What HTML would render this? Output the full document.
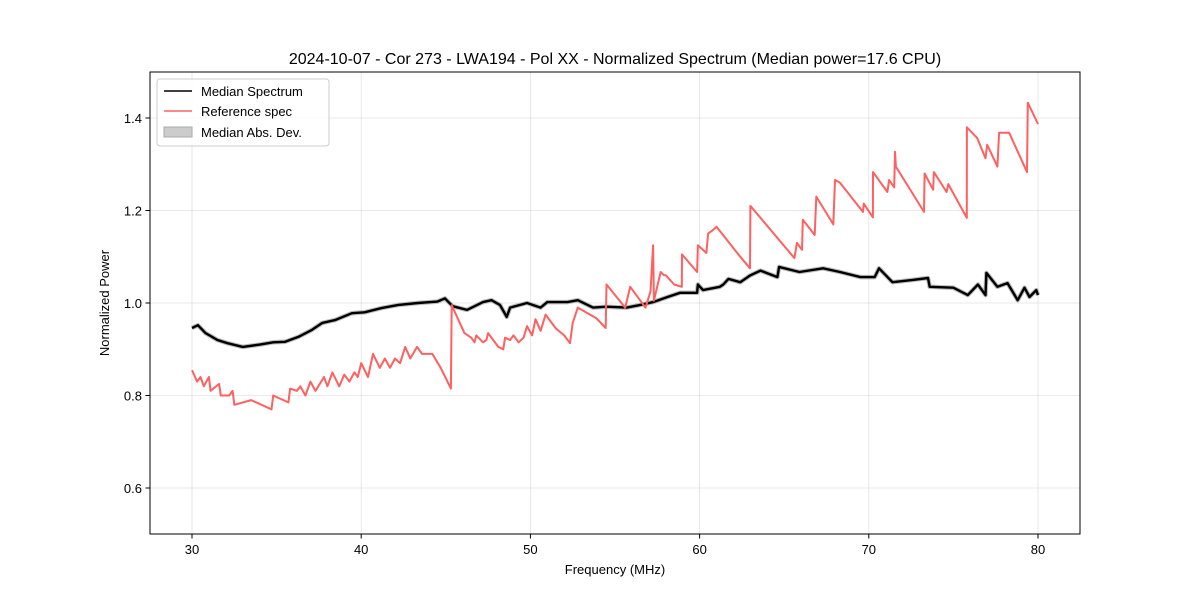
<!DOCTYPE html>
<html><head><meta charset="utf-8"><style>
body{margin:0;background:#fff}
svg{font-family:"Liberation Sans",sans-serif}
</style></head><body>
<svg id="chart" width="1200" height="600" xmlns="http://www.w3.org/2000/svg">
<rect width="1200" height="600" fill="#fff"/>
<text x="615" y="64" font-size="16" text-anchor="middle">2024-10-07 - Cor 273 - LWA194 - Pol XX - Normalized Spectrum (Median power=17.6 CPU)</text>
<g id="grid"></g>
<g id="series"></g>
<rect x="150" y="72" width="930" height="462" fill="none" stroke="#000" stroke-width="1"/>
<g id="ticks"></g>
<text x="615" y="574" font-size="13" text-anchor="middle">Frequency (MHz)</text>
<text x="109" y="303" font-size="13" text-anchor="middle" transform="rotate(-90 109 303)">Normalized Power</text>
<g>
<rect x="157" y="79" width="172" height="67" rx="3" fill="#fff" fill-opacity="0.8" stroke="#ccc"/>
<g><line x1="164" y1="91" x2="192" y2="91" stroke="#000" stroke-width="1.5"/><text x="201" y="96" font-size="13">Median Spectrum</text></g>
<g><line x1="164" y1="111" x2="192" y2="111" stroke="#ff6060" stroke-width="1.5"/><text x="201" y="116" font-size="13">Reference spec</text></g>
<g><rect x="164" y="127" width="28" height="10" fill="#ccc" stroke="#aaa"/><text x="201" y="137" font-size="13">Median Abs. Dev.</text></g>
</g>
</svg>
<script>
const xTicks=[30,40,50,60,70,80];
const yTicks=[0.6,0.8,1.0,1.2,1.4];
const yTickLabels=["0.6","0.8","1.0","1.2","1.4"];
const refFreq=[30,30.3,30.5,30.7,31,31.1,31.6,31.7,32.2,32.4,32.5,33.5,34.7,34.8,35.7,35.8,36.2,36.4,36.7,37,37.3,37.8,38,38.3,38.7,39,39.3,39.6,39.8,40,40.4,40.7,41.1,41.4,41.7,42,42.3,42.6,42.9,43.3,43.6,44.2,44.7,45.3,45.35,45.6,46.1,46.5,46.7,46.8,47.2,47.4,47.5,47.8,48.1,48.4,48.5,48.8,49,49.3,49.6,49.8,50.1,50.3,50.6,50.9,51.5,52,52.34,52.5,52.8,53.9,54.45,54.5,55.6,55.9,56.8,57.1,57.25,57.3,57.7,57.9,58,58.5,58.95,58.96,59.85,59.9,60.4,60.5,60.8,61,62.4,62.98,63,65.6,65.75,66.05,66.1,66.8,66.9,67.9,68,68.3,69.66,69.7,70.24,70.25,71.1,71.2,71.5,71.55,71.6,73.26,73.3,73.8,73.85,74.6,74.7,75.79,75.8,76.4,76.9,77,77.6,77.7,78.3,79.35,79.4,80];
const refVal=[0.855,0.83,0.84,0.82,0.84,0.81,0.825,0.8,0.8,0.81,0.78,0.79,0.77,0.8,0.785,0.815,0.81,0.82,0.8,0.83,0.81,0.84,0.82,0.85,0.82,0.845,0.83,0.85,0.84,0.87,0.84,0.89,0.86,0.88,0.86,0.88,0.87,0.905,0.88,0.905,0.89,0.89,0.86,0.815,0.995,0.975,0.935,0.925,0.915,0.93,0.915,0.92,0.935,0.92,0.905,0.9,0.925,0.92,0.93,0.915,0.925,0.95,0.93,0.965,0.94,0.975,0.945,0.93,0.913,0.957,0.99,0.967,0.946,1.04,0.99,1.035,0.99,1.025,1.125,1.005,1.067,1.06,1.06,1.04,1.035,1.105,1.067,1.125,1.108,1.15,1.158,1.165,1.1,1.075,1.21,1.097,1.13,1.115,1.18,1.147,1.23,1.17,1.266,1.26,1.197,1.215,1.185,1.283,1.24,1.266,1.25,1.327,1.295,1.197,1.28,1.245,1.283,1.24,1.257,1.184,1.38,1.357,1.313,1.342,1.295,1.368,1.368,1.283,1.433,1.387];
const medFreq=[30,30.35,30.8,31.5,32.1,33,34,34.8,35.5,36.3,37.1,37.7,38.45,39.45,40.2,41.2,42.2,43.35,44.5,44.95,45.4,46.25,47.2,47.7,48.2,48.6,48.8,49.8,50.6,51,52.2,52.8,53.7,54.5,55.7,56.5,57.25,58.1,58.85,59.85,59.9,60.2,61.2,61.4,61.7,62.4,63,63.6,64.6,64.7,65.9,67.3,68.3,69.5,70.35,70.6,71.4,72.6,73.5,73.6,75,75.85,76.45,76.9,76.95,77.6,78.2,78.8,79.2,79.5,79.9,80];
const medVal=[0.946,0.952,0.935,0.92,0.913,0.905,0.91,0.915,0.916,0.927,0.942,0.957,0.963,0.978,0.98,0.989,0.996,1.0,1.003,1.01,0.993,0.985,1.002,1.006,0.996,0.97,0.99,1.0,0.99,1.002,1.002,1.006,0.99,0.992,0.99,0.996,1.002,1.013,1.022,1.022,1.04,1.028,1.035,1.04,1.052,1.045,1.06,1.07,1.056,1.078,1.067,1.075,1.067,1.056,1.056,1.075,1.045,1.05,1.054,1.035,1.033,1.017,1.04,1.017,1.065,1.035,1.043,1.006,1.033,1.013,1.028,1.017];
const NS='http://www.w3.org/2000/svg';
const X=f=>192+(f-30)*16.92;
const Y=v=>303-(v-1)*462.5;
function mk(tag,attrs,parent){const e=document.createElementNS(NS,tag);for(const k in attrs)e.setAttribute(k,attrs[k]);parent.appendChild(e);return e;}
const grid=document.getElementById('grid'),ticks=document.getElementById('ticks'),series=document.getElementById('series');
xTicks.forEach(t=>{
 const g=mk('line',{x1:X(t),x2:X(t),y1:72,y2:534,stroke:'#b0b0b0','stroke-opacity':0.35,'stroke-width':0.8},grid);
 
 
 const tk=mk('line',{x1:X(t),x2:X(t),y1:534,y2:538.5,stroke:'#000'},ticks);
 
 
 const tl=mk('text',{x:X(t),y:554,'font-size':13,'text-anchor':'middle'},ticks);
 tl.textContent=t;
 
 
});
yTicks.forEach((t,i)=>{
 const g=mk('line',{x1:150,x2:1080,y1:Y(t),y2:Y(t),stroke:'#b0b0b0','stroke-opacity':0.35,'stroke-width':0.8},grid);
 
 
 const tk=mk('line',{x1:145.5,x2:150,y1:Y(t),y2:Y(t),stroke:'#000'},ticks);
 
 
 const tl=mk('text',{x:142,y:Y(t)+5,'font-size':13,'text-anchor':'end'},ticks);
 tl.textContent=yTickLabels[i];
 
 
});
const pts=(fs,vs)=>fs.map((f,i)=>X(f).toFixed(1)+','+Y(vs[i]).toFixed(1)).join(' ');
const band=mk('polyline',{points:pts(medFreq,medVal),fill:'none',stroke:'#bbb','stroke-width':4.5,'stroke-linejoin':'round'},series);


const med=mk('polyline',{points:pts(medFreq,medVal),fill:'none',stroke:'#000','stroke-width':2.4,'stroke-linejoin':'round'},series);


const ref=mk('polyline',{points:pts(refFreq,refVal),fill:'none',stroke:'#ff6060','stroke-width':2,'stroke-linejoin':'round'},series);


</script>
</body></html>
